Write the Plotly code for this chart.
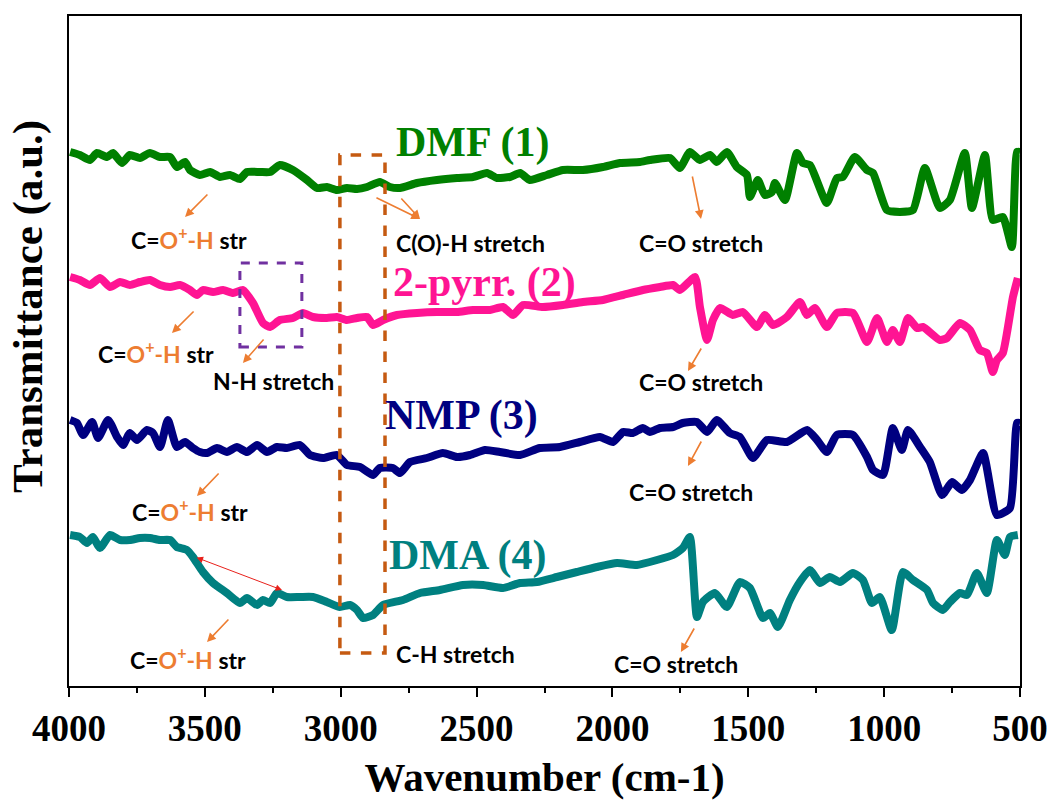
import plotly.graph_objects as go

# ---------------- data (wavenumber cm-1, transmittance a.u.) ----------------
dmf_wn = [3996, 3960, 3923, 3897, 3860, 3838, 3805, 3776, 3739, 3702, 3665, 3628, 3603, 3573, 3555, 3518,
          3481, 3444, 3408, 3371, 3345, 3297, 3260, 3224, 3176, 3124, 3087, 3051, 3014, 2977, 2940, 2903,
          2856, 2819, 2782, 2719, 2646, 2572, 2513, 2462, 2425, 2377, 2340, 2304, 2241, 2182, 2109, 2035,
          1972, 1899, 1862, 1788, 1752, 1715, 1678, 1641, 1616, 1579, 1542, 1505, 1494, 1465, 1439, 1413,
          1402, 1365, 1321, 1299, 1273, 1211, 1174, 1152, 1108, 1063, 1041, 990, 942, 894, 850, 795, 758,
          703, 677, 629, 600, 563, 530, 511, 500]
dmf_t = [53.4, 53.1, 52.6, 53.3, 52.9, 53.3, 52.3, 53.1, 52.8, 53.3, 52.9, 52.9, 51.9, 52.4, 51.6, 51.1,
         51.4, 50.9, 51.1, 50.7, 51.4, 51.4, 51.4, 52.1, 51.6, 50.6, 49.8, 49.9, 49.6, 49.8, 49.7, 49.9,
         50.4, 49.9, 49.8, 50.3, 50.6, 50.8, 50.9, 51.3, 50.8, 50.9, 51.3, 50.6, 51.1, 51.6, 51.6, 51.9,
         52.3, 52.4, 52.6, 52.8, 51.8, 53.4, 52.6, 53.1, 52.4, 53.4, 51.9, 51.1, 48.9, 50.6, 49.1, 49.4,
         50.3, 48.6, 53.3, 52.3, 52.1, 48.3, 50.8, 50.9, 52.9, 51.6, 51.3, 47.6, 47.4, 47.6, 51.8, 47.8, 48.6,
         53.3, 47.8, 53.1, 46.6, 46.9, 43.9, 53.4, 53.4]

pyr_wn = [3996, 3960, 3923, 3886, 3849, 3812, 3776, 3739, 3702, 3665, 3628, 3592, 3555, 3529, 3507, 3470,
          3433, 3396, 3360, 3323, 3286, 3260, 3224, 3176, 3139, 3102, 3051, 3014, 2977, 2940, 2903, 2881,
          2844, 2793, 2719, 2646, 2572, 2513, 2451, 2403, 2366, 2329, 2256, 2182, 2109, 2035, 1961, 1888,
          1825, 1777, 1752, 1696, 1678, 1652, 1630, 1604, 1557, 1520, 1468, 1439, 1409, 1358, 1310, 1284,
          1255, 1211, 1174, 1115, 1063, 1026, 990, 968, 942, 912, 879, 857, 795, 769, 721, 684, 648, 622,
          600, 585, 563, 526, 508]
pyr_t = [40.9, 40.6, 40.1, 40.8, 39.9, 40.4, 40.1, 40.4, 40.6, 40.1, 39.9, 40.1, 39.6, 39.1, 39.6, 39.4,
         39.6, 39.3, 39.6, 38.3, 36.3, 35.9, 36.6, 36.8, 37.3, 36.9, 36.8, 36.9, 36.6, 36.8, 36.9, 36.1,
         36.6, 37.1, 37.3, 37.4, 37.4, 37.6, 37.6, 37.9, 37.1, 38.1, 37.9, 38.1, 38.4, 38.6, 39.1, 39.6,
         39.9, 40.1, 39.6, 40.9, 37.9, 34.6, 36.6, 37.8, 37.1, 37.4, 35.9, 37.1, 36.1, 36.9, 38.4, 37.1,
         37.8, 35.9, 37.3, 37.3, 34.4, 36.8, 34.4, 35.6, 34.4, 36.8, 35.8, 35.9, 34.6, 34.8, 36.3, 35.6,
         33.6, 33.3, 31.4, 32.6, 33.3, 38.9, 40.8]

nmp_wn = [3996, 3971, 3948, 3915, 3893, 3856, 3823, 3801, 3776, 3750, 3713, 3691, 3665, 3636, 3603, 3573,
          3544, 3518, 3492, 3455, 3419, 3382, 3345, 3308, 3271, 3235, 3198, 3150, 3113, 3065, 3014, 2977,
          2929, 2881, 2856, 2808, 2782, 2745, 2683, 2624, 2572, 2524, 2469, 2414, 2340, 2267, 2193, 2120,
          2046, 1998, 1961, 1925, 1888, 1862, 1825, 1777, 1741, 1689, 1652, 1616, 1568, 1531, 1483, 1431,
          1358, 1284, 1247, 1211, 1174, 1115, 1063, 1041, 1004, 968, 935, 912, 868, 832, 787, 750, 714,
          684, 636, 585, 537, 511, 500]
nmp_t = [26.6, 26.3, 25.1, 26.4, 24.8, 26.6, 24.9, 24.1, 25.3, 24.6, 25.6, 25.3, 23.9, 26.6, 23.9, 24.4,
         23.8, 23.4, 23.3, 23.8, 23.4, 23.9, 23.4, 24.1, 23.4, 23.9, 23.8, 24.1, 23.1, 22.8, 23.1, 22.1,
         21.9, 21.1, 21.8, 21.8, 21.3, 22.4, 22.8, 23.3, 22.9, 23.1, 23.6, 23.4, 23.1, 23.8, 23.9, 24.4,
         24.9, 24.4, 25.4, 25.3, 25.8, 25.4, 25.8, 25.9, 26.3, 26.4, 25.4, 26.6, 25.3, 24.9, 22.8, 24.6,
         24.4, 25.6, 24.6, 23.4, 25.1, 25.1, 22.9, 21.6, 21.1, 25.8, 23.6, 25.6, 23.9, 22.4, 19.1, 20.4, 19.6,
         20.6, 23.3, 17.1, 17.8, 26.3, 26.3]

dma_wn = [3996, 3960, 3934, 3912, 3886, 3849, 3812, 3776, 3739, 3702, 3665, 3628, 3603, 3566, 3544, 3507,
          3470, 3419, 3371, 3345, 3308, 3286, 3260, 3235, 3198, 3150, 3102, 3051, 3003, 2966, 2940, 2918,
          2881, 2844, 2771, 2708, 2635, 2550, 2476, 2403, 2340, 2278, 2204, 2131, 2057, 1983, 1910, 1836,
          1777, 1741, 1715, 1689, 1667, 1623, 1579, 1531, 1494, 1446, 1420, 1391, 1347, 1310, 1273, 1236,
          1200, 1163, 1115, 1078, 1045, 1016, 972, 931, 894, 842, 820, 784, 758, 721, 695, 659, 622, 585,
          556, 537, 508]
dma_t = [15.1, 14.9, 14.3, 14.9, 13.8, 15.1, 14.6, 14.6, 14.8, 14.8, 14.6, 14.6, 13.9, 13.6, 12.9, 11.4,
         10.3, 9.3, 8.3, 8.8, 8.1, 8.6, 8.3, 9.3, 8.9, 8.9, 8.9, 8.4, 7.9, 8.1, 7.6, 6.8,
         7.1, 8.1, 8.6, 9.3, 9.6, 10.1, 10.1, 9.8, 10.3, 10.4, 10.9, 11.4, 11.9, 12.3, 12.1, 12.6,
         13.1, 13.8, 14.9, 6.9, 8.4, 9.3, 7.9, 10.4, 9.8, 6.8, 7.3, 5.9, 8.6, 10.4, 11.6, 10.3,
         10.9, 10.4, 11.3, 10.6, 8.3, 8.9, 5.6, 11.4, 10.6, 9.6, 8.3, 7.6, 8.4, 9.3, 9.1, 11.3, 9.3, 14.6,
         13.1, 14.9, 15.1]

x_ticks = [4000, 3500, 3000, 2500, 2000, 1500, 1000, 500]
x_tick_text = ["4000", "3500", "3000", "2500", "2000", "1500", "1000", "500"]

series = [
    ("DMF (1)", dmf_wn, dmf_t, "#008000"),
    ("2-pyrr. (2)", pyr_wn, pyr_t, "#FF1493"),
    ("NMP (3)", nmp_wn, nmp_t, "#000080"),
    ("DMA (4)", dma_wn, dma_t, "#008080"),
]

# label positions (wavenumber, transmittance)
series_label_pos = [(2513, 54.4), (2469, 40.4), (2554, 27.1), (2535, 13.1)]

ORANGE = "#ED7D31"
SERIF = "Liberation Serif"
SANS = "Lato"

fig = go.Figure()
for name, wn, t, col in series:
    fig.add_trace(go.Scatter(x=wn, y=t, mode="lines", name=name,
                             line=dict(color=col, width=8, shape="spline", smoothing=0.5),
                             showlegend=False))

annotations = []
for (name, _, _, col), (px, py) in zip(series, series_label_pos):
    annotations.append(dict(x=px, y=py, text=name, showarrow=False, xref="x", yref="y",
                            font=dict(family=SERIF, size=42, color=col, weight="bold")))

coh = "C=<span style='color:%s'>O<sup>+</sup>-H</span> str" % ORANGE
band_labels = [
    (coh, 3558, 44.8),
    ("C(O)-H stretch", 2524, 44.3),
    ("C=O stretch", 1674, 44.3),
    (coh, 3680, 33.4),
    ("N-H stretch", 3249, 30.5),
    ("C=O stretch", 1674, 30.4),
    (coh, 3555, 17.6),
    ("C=O stretch", 1711, 19.4),
    (coh, 3562, 2.8),
    ("C-H stretch", 2576, 3.2),
    ("C=O stretch", 1766, 2.2),
]
for txt, bx, by in band_labels:
    annotations.append(dict(x=bx, y=by, text=txt, showarrow=False, xref="x", yref="y",
                            font=dict(family=SANS, size=23, color="black", weight="bold")))

# arrows: (tail_x, tail_y, head_x, head_y)
arrows = [
    (3485, 49.3, 3573, 46.9),
    (2874, 48.9, 2708, 46.7),
    (2782, 48.9, 2708, 46.7),
    (1707, 51.1, 1674, 46.7),
    (3536, 37.6, 3621, 35.3),
    (3279, 34.8, 3360, 32.3),
    (1670, 33.9, 1722, 31.5),
    (3444, 21.4, 3529, 19.0),
    (1670, 24.6, 1722, 22.0),
    (3408, 6.8, 3492, 4.4),
    (1696, 5.9, 1748, 3.4),
]
for tx, ty, hx, hy in arrows:
    annotations.append(dict(x=hx, y=hy, ax=tx, ay=ty, xref="x", yref="y", axref="x", ayref="y",
                            text="", showarrow=True, arrowhead=2, arrowsize=1.1, arrowwidth=1.6,
                            arrowcolor=ORANGE, standoff=0, startstandoff=0))
# red double-headed arrow
annotations.append(dict(x=3216, y=9.6, ax=3536, ay=12.9, xref="x", yref="y", axref="x", ayref="y",
                        text="", showarrow=True, arrowhead=2, startarrowhead=2, arrowside="end+start",
                        arrowsize=1.3, startarrowsize=1.3, arrowwidth=1, arrowcolor="#E8211B",
                        standoff=0, startstandoff=0))

# y axis title as annotation
annotations.append(dict(x=-0.043, y=0.566, xref="paper", yref="paper", text="Transmittance (a.u.)",
                        textangle=-90, showarrow=False, xanchor="center", yanchor="middle",
                        font=dict(family=SERIF, size=43, color="black", weight="bold")))

shapes = [
    dict(type="rect", xref="x", yref="y", x0=3003, x1=2837, y0=3.3, y1=53.1,
         line=dict(color="#C55A11", width=3.5, dash="dash")),
    dict(type="rect", xref="x", yref="y", x0=3371, x1=3143, y0=33.9, y1=42.3,
         line=dict(color="#7030A0", width=3, dash="dash")),
]

fig.update_layout(
    width=1056, height=800,
    margin=dict(l=69, r=36, t=16, b=114),
    paper_bgcolor="white", plot_bgcolor="white",
    font=dict(family=SERIF, color="black"),
    annotations=annotations, shapes=shapes,
    xaxis=dict(range=[4000, 500], tickmode="array", tickvals=x_ticks, ticktext=x_tick_text,
               ticks="outside", ticklen=9, tickwidth=1.5, automargin=False,
               tickcolor="black", showline=True, linecolor="black", linewidth=2, mirror=True,
               showgrid=False, zeroline=False,
               minor=dict(ticks="outside", ticklen=5, tickwidth=1.5, tickcolor="black", dtick=250),
               tickfont=dict(family=SERIF, size=37, color="black", weight="bold"),
               title=dict(text="Wavenumber (cm-1)", standoff=14,
                          font=dict(family=SERIF, size=41, color="black", weight="bold"))),
    yaxis=dict(range=[0, 67], showticklabels=False, ticks="", showline=True, linecolor="black",
               linewidth=1.5, mirror=True, showgrid=False, zeroline=False, automargin=False),
)

fig.write_html("out.html")
